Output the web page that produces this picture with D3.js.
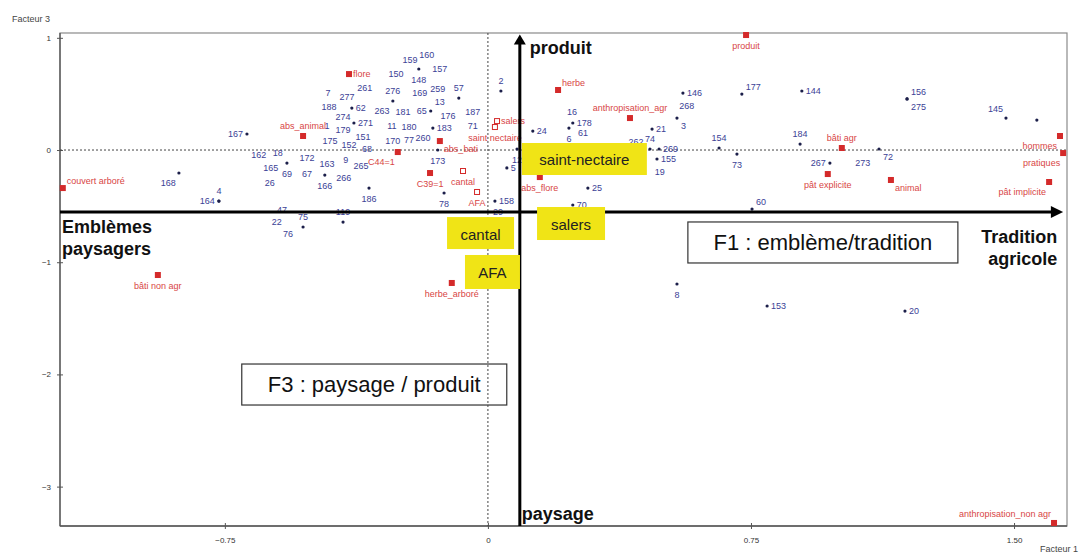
<!DOCTYPE html>
<html><head><meta charset="utf-8">
<script src="https://cdn.jsdelivr.net/npm/d3@7"></script>
<style>
html,body{margin:0;padding:0;background:#fff;}
svg{display:block;font-family:"Liberation Sans",Arial,sans-serif;}
</style></head>
<body>
<svg id="chart" width="1086" height="555"></svg>
<script>
// ---- Data (Facteur 1, Facteur 3, label side) ----
const individuals = [
  ["167",-0.687,0.143,"l"],["168",-0.881,-0.205,"bl"],["4",-0.767,-0.455,"t"],["164",-0.767,-0.455,"l"],
  ["62",-0.388,0.374,"r"],["271",-0.382,0.241,"r"],["69",-0.573,-0.116,"b"],["166",-0.465,-0.223,"b"],
  ["186",-0.339,-0.339,"b"],["75",-0.527,-0.686,"t"],["119",-0.413,-0.642,"t"],["148",-0.197,0.722,"b"],
  ["276",-0.271,0.437,"t"],["57",-0.083,0.463,"t"],["2",0.037,0.526,"t"],["65",-0.163,0.348,"l"],
  ["183",-0.157,0.196,"r"],["173",-0.143,0.0,"b"],["78",-0.125,-0.383,"b"],["158",0.020,-0.455,"r"],
  ["5",0.054,-0.160,"r"],["12",0.083,0.009,"b"],["24",0.128,0.169,"r"],["178",0.242,0.241,"r"],
  ["6",0.231,0.196,"b"],["21",0.468,0.187,"r"],["74",0.462,0.009,"t"],["269",0.488,0.009,"r"],
  ["155",0.482,-0.080,"r"],["25",0.285,-0.339,"r"],["146",0.556,0.508,"r"],["3",0.539,0.285,"br"],
  ["177",0.724,0.499,"tr"],["144",0.895,0.526,"r"],["154",0.659,0.018,"t"],["73",0.710,-0.036,"b"],
  ["184",0.890,0.053,"t"],["267",0.975,-0.116,"l"],["72",1.115,0.009,"br"],["156",1.195,0.455,"tr"],
  ["275",1.195,0.455,"br"],["145",1.477,0.285,"tl"],["",1.565,0.267,"r"],["70",0.242,-0.490,"r"],
  ["60",0.753,-0.526,"tr"],["8",0.539,-1.194,"b"],["153",0.796,-1.390,"r"],["20",1.189,-1.435,"r"],
  ["162",-0.653,-0.045,"c"],["18",-0.599,-0.027,"c"],["172",-0.516,-0.071,"c"],["165",-0.619,-0.160,"c"],
  ["67",-0.516,-0.214,"c"],["163",-0.459,-0.125,"c"],["9",-0.405,-0.089,"c"],["265",-0.362,-0.143,"c"],
  ["266",-0.411,-0.250,"c"],["26",-0.622,-0.294,"c"],["47",-0.587,-0.535,"c"],["22",-0.602,-0.642,"c"],
  ["76",-0.570,-0.749,"c"],["261",-0.351,0.553,"c"],["7",-0.456,0.508,"c"],["277",-0.402,0.472,"c"],
  ["188",-0.453,0.383,"c"],["274",-0.413,0.294,"c"],["1",-0.459,0.214,"c"],["179",-0.413,0.178,"c"],
  ["151",-0.356,0.116,"c"],["175",-0.450,0.080,"c"],["152",-0.396,0.045,"c"],["68",-0.345,0.009,"c"],
  ["159",-0.222,0.802,"c"],["160",-0.174,0.847,"c"],["157",-0.137,0.722,"c"],["150",-0.262,0.677,"c"],
  ["169",-0.194,0.508,"c"],["259",-0.143,0.544,"c"],["13",-0.137,0.428,"c"],["263",-0.302,0.348,"c"],
  ["181",-0.242,0.339,"c"],["176",-0.114,0.303,"c"],["187",-0.043,0.339,"c"],["11",-0.274,0.214,"c"],
  ["180",-0.225,0.205,"c"],["71",-0.043,0.214,"c"],["170",-0.271,0.080,"c"],["77",-0.225,0.089,"c"],
  ["260",-0.185,0.107,"c"],["29",0.029,-0.553,"c"],["16",0.240,0.339,"c"],["61",0.271,0.152,"c"],
  ["262",0.422,0.071,"c"],["19",0.490,-0.196,"c"],["268",0.567,0.392,"c"],["273",1.069,-0.116,"c"]
];
const variables = [
  ["couvert arboré",-1.212,-0.339,"tr"],["flore",-0.396,0.677,"r"],["abs_animal",-0.527,0.125,"t"],
  ["herbe",0.200,0.535,"tr"],["anthropisation_agr",0.405,0.285,"t"],["abs_bati",-0.137,0.080,"br"],
  ["C44=1",-0.257,-0.018,"bl"],["C39=1",-0.165,-0.205,"b"],["abs_flore",0.148,-0.241,"b"],
  ["produit",0.736,1.025,"b"],["bâti agr",1.009,0.018,"t"],["pât explicite",0.969,-0.214,"b"],
  ["animal",1.149,-0.267,"br"],["hommes",1.631,0.125,"bl"],["pratiques",1.640,-0.027,"bl"],
  ["pât implicite",1.600,-0.285,"bl"],["bâti non agr",-0.941,-1.114,"b"],["herbe_arboré",-0.103,-1.185,"b"],
  ["anthropisation_non agr",1.614,-3.324,"tl"]
];
const supplementary = [
  ["salers",0.026,0.258,"r"],["saint nectaire",0.020,0.205,"b"],["cantal",-0.071,-0.187,"b"],["AFA",-0.031,-0.374,"b"]
];
const xTicks = [-0.75, 0, 0.75, 1.5];
const yTicks = [1, 0, -1, -2, -3];
const xDomain = [-1.22, 1.651];
const yDomain = [-3.351, 1.043];

// ---- Layout ----
const svg = d3.select("#chart");
const L = 60, R = 1067, T = 33, B = 526;
const x = d3.scaleLinear().domain(xDomain).range([L, R]);
const y = d3.scaleLinear().domain(yDomain).range([B, T]);

const BLUE = "#3b4196", RED = "#d42a2a", REDTXT = "#d84545";

// frame
svg.append("rect").attr("x",L).attr("y",T).attr("width",R-L).attr("height",B-T)
  .attr("fill","none").attr("stroke","#8a8a8a").attr("stroke-width",1.2);
svg.append("line").attr("x1",L).attr("x2",L).attr("y1",T).attr("y2",B).attr("stroke","#555").attr("stroke-width",1.3);
svg.append("line").attr("x1",L).attr("x2",R).attr("y1",B).attr("y2",B).attr("stroke","#555").attr("stroke-width",1.3);

// axes ticks
const fmtX = v => v === 0 ? "0" : d3.format(".2f")(v);
const ax = svg.append("g").attr("transform",`translate(0,${B})`)
  .call(d3.axisBottom(x).tickValues(xTicks).tickFormat(fmtX).tickSize(3).tickPadding(8));
ax.select(".domain").remove();
ax.selectAll("line").attr("y1",-3).attr("y2",3).attr("stroke","#555");
ax.selectAll("text").attr("font-size",8).attr("fill","#333").attr("font-family","Liberation Sans, Arial");
const ay = svg.append("g").attr("transform",`translate(${L},0)`)
  .call(d3.axisLeft(y).tickValues(yTicks).tickFormat(d3.format("d")).tickSize(3).tickPadding(6));
ay.select(".domain").remove();
ay.selectAll("line").attr("x1",-3).attr("x2",3).attr("stroke","#555");
ay.selectAll("text").attr("font-size",8).attr("fill","#333").attr("font-family","Liberation Sans, Arial");

svg.append("text").attr("x",12).attr("y",22).attr("font-size",9).attr("fill","#444").text("Facteur 3");
svg.append("text").attr("x",1040).attr("y",552).attr("font-size",9).attr("fill","#444").text("Facteur 1");

// F3 box (transparent, behind dashed line)
function frameBox(f1, f3, w, h, txt, size) {
  const cx = x(f1), cy = y(f3);
  svg.append("rect").attr("x",cx-w/2).attr("y",cy-h/2).attr("width",w).attr("height",h)
    .attr("fill","none").attr("stroke","#333").attr("stroke-width",1.2);
  svg.append("text").attr("x",cx).attr("y",cy).attr("text-anchor","middle").attr("dominant-baseline","central")
    .attr("font-size",size).attr("fill","#111").text(txt);
}
frameBox(-0.324,-2.090,265,41,"F3 : paysage / produit",22);
frameBox(0.955,-0.824,270,41,"F1 : emblème/tradition",22);

// dashed origin lines
svg.append("line").attr("x1",L).attr("x2",R).attr("y1",y(0)).attr("y2",y(0))
  .attr("stroke","#444").attr("stroke-dasharray","2,2").attr("stroke-width",1);
svg.append("line").attr("x1",x(0)).attr("x2",x(0)).attr("y1",T).attr("y2",B)
  .attr("stroke","#444").attr("stroke-dasharray","2,2").attr("stroke-width",1);

// label offset helper
const OFF = {
  r:{a:"start",dx:4,dy:0}, l:{a:"end",dx:-4,dy:0}, t:{a:"middle",dx:0,dy:-10}, b:{a:"middle",dx:0,dy:11},
  tr:{a:"start",dx:4,dy:-7}, br:{a:"start",dx:4,dy:8}, tl:{a:"end",dx:-3,dy:-9}, bl:{a:"end",dx:-3,dy:10},
  c:{a:"middle",dx:0,dy:0}
};

// individuals
const gi = svg.append("g");
gi.selectAll("circle").data(individuals.filter(d=>d[3]!=="c")).join("circle")
  .attr("cx",d=>x(d[1])).attr("cy",d=>y(d[2])).attr("r",1.6).attr("fill","#1c1f4a");
gi.selectAll("text").data(individuals).join("text")
  .attr("x",d=>x(d[1])+OFF[d[3]].dx).attr("y",d=>y(d[2])+OFF[d[3]].dy)
  .attr("text-anchor",d=>OFF[d[3]].a).attr("dominant-baseline","central")
  .attr("font-size",9).attr("fill",BLUE).text(d=>d[0]);

// variables (filled squares)
const gv = svg.append("g");
gv.selectAll("rect").data(variables).join("rect")
  .attr("x",d=>x(d[1])-3).attr("y",d=>y(d[2])-3).attr("width",6).attr("height",6).attr("fill",RED);
gv.selectAll("text").data(variables).join("text")
  .attr("x",d=>x(d[1])+OFF[d[3]].dx).attr("y",d=>y(d[2])+OFF[d[3]].dy)
  .attr("text-anchor",d=>OFF[d[3]].a).attr("dominant-baseline","central")
  .attr("font-size",9).attr("fill",REDTXT).text(d=>d[0]);

// supplementary (hollow squares)
const gs = svg.append("g");
gs.selectAll("rect").data(supplementary).join("rect")
  .attr("x",d=>x(d[1])-2.5).attr("y",d=>y(d[2])-2.5).attr("width",5).attr("height",5)
  .attr("fill","#fff").attr("stroke",RED).attr("stroke-width",1);
gs.selectAll("text").data(supplementary).join("text")
  .attr("x",d=>x(d[1])+OFF[d[3]].dx).attr("y",d=>y(d[2])+OFF[d[3]].dy)
  .attr("text-anchor",d=>OFF[d[3]].a).attr("dominant-baseline","central")
  .attr("font-size",9).attr("fill",REDTXT).text(d=>d[0]);

// thick arrows (interpretation axes)
const hF3 = -0.553, vF1 = 0.091;
const hy = y(hF3), vx = x(vF1);
svg.append("line").attr("x1",L).attr("x2",x(1.615)).attr("y1",hy).attr("y2",hy).attr("stroke","#000").attr("stroke-width",3);
svg.append("path").attr("d",`M${x(1.605)},${hy-6}L${x(1.64)},${hy}L${x(1.605)},${hy+6}Z`).attr("fill","#000");
svg.append("line").attr("x1",vx).attr("x2",vx).attr("y1",B).attr("y2",y(0.95)).attr("stroke","#000").attr("stroke-width",3);
svg.append("path").attr("d",`M${vx-6},${y(0.94)}L${vx},${y(1.03)}L${vx+6},${y(0.94)}Z`).attr("fill","#000");

// bold pole labels
function bold(txt, px, py, anchor) {
  svg.append("text").attr("x",px).attr("y",py).attr("text-anchor",anchor)
    .attr("font-size",18).attr("font-weight","bold").attr("fill","#111").text(txt);
}
bold("Emblèmes", L+2, hy+21, "start");
bold("paysagers", L+2, hy+43, "start");
bold("Tradition", x(1.623), hy+31, "end");
bold("agricole", x(1.623), hy+53, "end");
bold("produit", vx+10, 54, "start");
bold("paysage", vx+2, B-6, "start");

// yellow tag boxes
const tags = [
  ["saint-nectaire",0.275,-0.080,125,32],
  ["cantal",-0.021,-0.740,67,32],
  ["salers",0.237,-0.655,68,33],
  ["AFA",0.013,-1.087,55,34]
];
const gt = svg.append("g");
tags.forEach(t=>{
  const cx = x(t[1]), cy = y(t[2]);
  gt.append("rect").attr("x",cx-t[3]/2).attr("y",cy-t[4]/2).attr("width",t[3]).attr("height",t[4]).attr("fill","#f0e416");
  gt.append("text").attr("x",cx).attr("y",cy+1).attr("text-anchor","middle").attr("dominant-baseline","central")
    .attr("font-size",15).attr("fill","#222").text(t[0]);
});
</script>
</body></html>
